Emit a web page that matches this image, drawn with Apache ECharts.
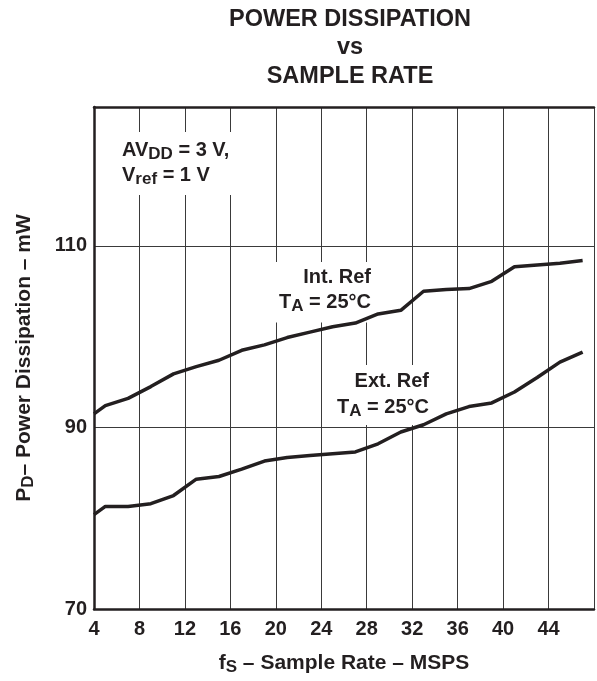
<!DOCTYPE html>
<html>
<head>
<meta charset="utf-8">
<script src="https://cdn.jsdelivr.net/npm/echarts@6/dist/echarts.min.js"></script>
<style>
html,body{margin:0;padding:0;background:#fff;}
#chart{width:597px;height:681px;}
</style>
</head>
<body>
<div id="chart"></div>
<script>
// ---- data ----
const sampleRates = [4, 5, 7, 9, 11, 13, 15, 17, 19, 21, 23, 25, 27, 29, 31, 33, 35, 37, 39, 41, 43, 45, 47];
const intRef = [91.5, 92.4, 93.2, 94.5, 95.9, 96.7, 97.4, 98.5, 99.1, 99.9, 100.5, 101.1, 101.5, 102.5, 102.9, 105.0, 105.2, 105.3, 106.1, 107.7, 107.9, 108.1, 108.4];
const extRef = [80.4, 81.3, 81.3, 81.6, 82.5, 84.3, 84.6, 85.4, 86.3, 86.7, 86.9, 87.1, 87.3, 88.2, 89.5, 90.3, 91.5, 92.3, 92.7, 93.9, 95.5, 97.2, 98.3];
const xTicks = [4, 8, 12, 16, 20, 24, 28, 32, 36, 40, 44];
const yTicks = [70, 90, 110];

const FAM = '"Liberation Sans", Arial, Helvetica, sans-serif';
const INK = '#231f20';
const font = (s) => 'bold ' + s + 'px ' + FAM;

const chart = echarts.init(document.getElementById('chart'));

const axisLineStyle = { color: INK, width: 2.5 };
const gridLineStyle = { color: '#3a3a3a', width: 1 };
const subRich = { fontFamily: FAM, fontWeight: 'bold', fontSize: 17, lineHeight: 17, padding: [8, 0, 0, 0], color: INK };

const option = {
  animation: false,
  backgroundColor: '#ffffff',
  title: {
    text: 'POWER DISSIPATION\nvs\nSAMPLE RATE',
    left: 350,
    top: 5,
    padding: 0,
    textAlign: 'center',
    textStyle: { fontFamily: FAM, fontWeight: 'bold', fontSize: 23.5, lineHeight: 28.5, color: INK }
  },
  grid: { left: 94, right: -4, top: 107, bottom: 67, containLabel: false },
  xAxis: [
    {
      type: 'value', min: 4, max: 48, interval: 4, position: 'bottom',
      axisLine: { show: true, lineStyle: axisLineStyle },
      axisTick: { show: false },
      splitLine: { show: true, lineStyle: gridLineStyle },
      axisLabel: {
        margin: 10, fontFamily: FAM, fontWeight: 'bold', fontSize: 20, color: INK,
        formatter: (v) => xTicks.includes(v) ? String(v) : ''
      },
      name: 'f{sub|S} – Sample Rate – MSPS',
      nameLocation: 'middle', nameGap: 42,
      nameTextStyle: { fontFamily: FAM, fontWeight: 'bold', fontSize: 21, lineHeight: 25, color: INK, rich: { sub: subRich } }
    },
    {
      type: 'value', min: 4, max: 48, position: 'top',
      axisLine: { show: true, lineStyle: axisLineStyle },
      axisTick: { show: false }, axisLabel: { show: false }, splitLine: { show: false }
    }
  ],
  yAxis: {
    type: 'value', min: 70, max: 125.3, interval: 20,
    axisLine: { show: true, lineStyle: axisLineStyle },
    axisTick: { show: false },
    splitLine: { show: true, lineStyle: gridLineStyle },
    axisLabel: {
      margin: 7, fontFamily: FAM, fontWeight: 'bold', fontSize: 20, color: INK,
      formatter: (v) => yTicks.includes(v) ? String(v) : ''
    },
    name: 'P{sub|D}– Power Dissipation – mW',
    nameLocation: 'middle', nameGap: 57,
    nameTextStyle: { fontFamily: FAM, fontWeight: 'bold', fontSize: 21, lineHeight: 25, color: INK, rich: { sub: subRich } }
  },
  series: [
    {
      name: 'Int. Ref', type: 'line', symbol: 'none', xAxisIndex: 0, z: 5,
      lineStyle: { color: INK, width: 3.5 },
      data: sampleRates.map((x, i) => [x, intRef[i]])
    },
    {
      name: 'Ext. Ref', type: 'line', symbol: 'none', xAxisIndex: 0, z: 5,
      lineStyle: { color: INK, width: 3.5 },
      data: sampleRates.map((x, i) => [x, extRef[i]])
    }
  ],
  graphic: [
    {
      type: 'text', x: 112, y: 132, z: 1,
      style: {
        text: 'AV{sub|DD} = 3 V,\nV{sub|ref} = 1 V',
        font: font(20), fill: INK, align: 'left', verticalAlign: 'top', lineHeight: 25,
        backgroundColor: '#ffffff', padding: [5.5, 8, 7.5, 10],
        rich: { sub: { font: font(17), fill: INK, lineHeight: 17, padding: [8, 0, 0, 0] } }
      }
    },
    {
      type: 'text', x: 376, y: 262, z: 1,
      style: {
        text: 'Int. Ref\nT{sub|A} = 25°C',
        font: font(20), fill: INK, align: 'right', verticalAlign: 'top', lineHeight: 25.5,
        backgroundColor: '#ffffff', padding: [2.5, 5, 7, 5],
        rich: { sub: { font: font(17), fill: INK, lineHeight: 17, padding: [8, 0, 0, 0] } }
      }
    },
    {
      type: 'text', x: 434, y: 365, z: 1,
      style: {
        text: 'Ext. Ref\nT{sub|A} = 25°C',
        font: font(20), fill: INK, align: 'right', verticalAlign: 'top', lineHeight: 26,
        backgroundColor: '#ffffff', padding: [3.4, 5, 4.6, 9],
        rich: { sub: { font: font(17), fill: INK, lineHeight: 17, padding: [8, 0, 0, 0] } }
      }
    }
  ]
};

chart.setOption(option);
</script>
</body>
</html>
